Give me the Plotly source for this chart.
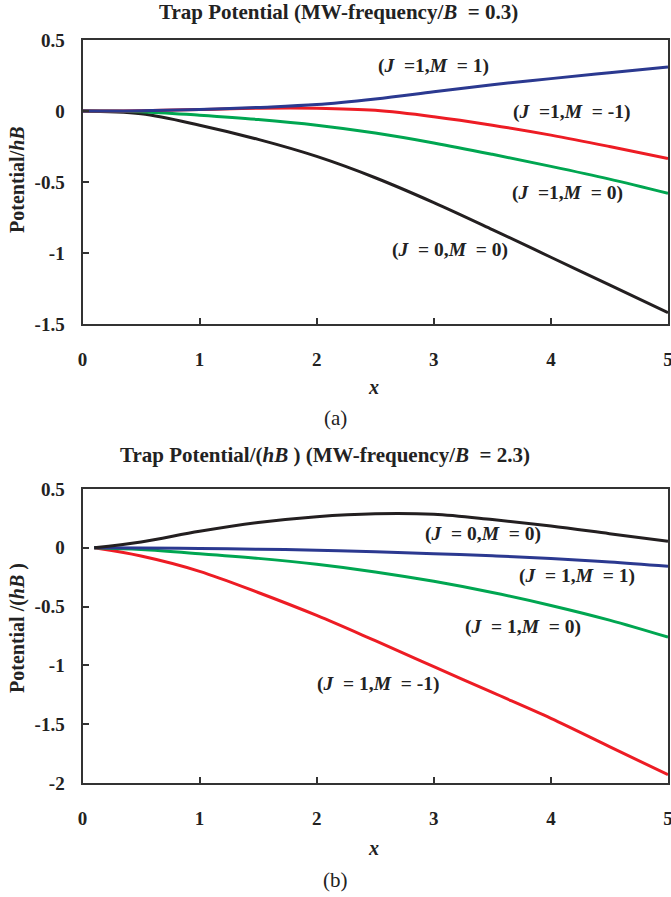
import plotly.graph_objects as go

# ---------------- data ----------------
x_a = [0, 0.5, 1, 1.5, 2, 2.5, 3, 3.5, 4, 4.5, 5]
a_J0M0 = [0, -0.02, -0.10, -0.20, -0.32, -0.47, -0.645, -0.835, -1.03, -1.225, -1.42]
a_J1M0 = [0, -0.005, -0.03, -0.06, -0.10, -0.155, -0.225, -0.305, -0.39, -0.48, -0.58]
a_J1Mm1 = [0, 0.002, 0.01, 0.02, 0.02, 0.005, -0.04, -0.10, -0.17, -0.25, -0.335]
a_J1M1 = [0, 0.002, 0.01, 0.025, 0.045, 0.085, 0.135, 0.185, 0.228, 0.27, 0.31]

x_b = [0.1, 0.5, 1, 1.5, 2, 2.5, 3, 3.5, 4, 4.5, 5]
b_J0M0 = [0, 0.05, 0.14, 0.215, 0.265, 0.29, 0.285, 0.24, 0.185, 0.12, 0.055]
b_J1M1 = [0, -0.001, -0.005, -0.012, -0.02, -0.033, -0.05, -0.068, -0.09, -0.12, -0.157]
b_J1M0 = [0, -0.015, -0.05, -0.09, -0.14, -0.205, -0.285, -0.38, -0.49, -0.615, -0.76]
b_J1Mm1 = [0, -0.07, -0.2, -0.38, -0.575, -0.79, -1.01, -1.23, -1.45, -1.69, -1.93]

x_ticks = [0, 1, 2, 3, 4, 5]
x_ticktext = ["0", "1", "2", "3", "4", "5"]
ya_ticks = [0.5, 0, -0.5, -1, -1.5]
ya_ticktext = ["0.5", "0", "-0.5", "-1", "-1.5"]
yb_ticks = [0.5, 0, -0.5, -1, -1.5, -2]
yb_ticktext = ["0.5", "0", "-0.5", "-1", "-1.5", "-2"]

BLUE = "#2b3990"
RED = "#ed1c24"
GREEN = "#00a651"
BLACK = "#231f20"
FONT = "Liberation Serif"
W, H = 671, 897

fig = go.Figure()

def line(x, y, color, xa, ya):
    fig.add_trace(go.Scatter(x=x, y=y, mode="lines", xaxis=xa, yaxis=ya,
                             line=dict(color=color, width=3, shape="spline", smoothing=1.0),
                             showlegend=False, hoverinfo="skip"))

line(x_a, a_J0M0, BLACK, "x", "y")
line(x_a, a_J1M0, GREEN, "x", "y")
line(x_a, a_J1Mm1, RED, "x", "y")
line(x_a, a_J1M1, BLUE, "x", "y")

line(x_b, b_J1Mm1, RED, "x2", "y2")
line(x_b, b_J1M0, GREEN, "x2", "y2")
line(x_b, b_J1M1, BLUE, "x2", "y2")
line(x_b, b_J0M0, BLACK, "x2", "y2")

xdom = [82.5 / W, 668 / W]
ydom_a = [1 - 324 / H, 1 - 40 / H]
ydom_b = [1 - 783 / H, 1 - 489 / H]

tickfont = dict(family=FONT, size=19, color="#222", weight="bold")
axis_common = dict(showline=True, mirror=True, linecolor="#333", linewidth=2,
                   ticks="inside", ticklen=6, tickwidth=1.5, tickcolor="#333",
                   showgrid=False, zeroline=False, tickfont=tickfont,
                   automargin=False, ticklabeloverflow="allow")

fig.update_layout(
    width=W, height=H,
    margin=dict(l=0, r=0, t=0, b=0),
    paper_bgcolor="white", plot_bgcolor="white",
    xaxis=dict(domain=xdom, range=[0, 5], anchor="y", tickvals=x_ticks,
               ticktext=x_ticktext, ticklabelstandoff=17, **axis_common),
    yaxis=dict(domain=ydom_a, range=[-1.5, 0.5], anchor="x", tickvals=ya_ticks,
               ticktext=ya_ticktext, ticklabelstandoff=12, **axis_common),
    xaxis2=dict(domain=xdom, range=[0, 5], anchor="y2", tickvals=x_ticks,
                ticktext=x_ticktext, ticklabelstandoff=17, **axis_common),
    yaxis2=dict(domain=ydom_b, range=[-2, 0.5], anchor="x2", tickvals=yb_ticks,
                ticktext=yb_ticktext, ticklabelstandoff=12, **axis_common),
)

def ann(text, x, y, xref="paper", yref="paper", size=17, angle=0, bold=True):
    fig.add_annotation(text=text, x=x, y=y, xref=xref, yref=yref, showarrow=False,
                       textangle=angle, xanchor="center", yanchor="middle",
                       font=dict(family=FONT, size=size, color="#222",
                                 weight="bold" if bold else "normal"))

def px(xp, yp):
    return xp / W, 1 - yp / H

# titles
ann("Trap Potential (MW-frequency/<i>B</i>  = 0.3)", *px(338, 12), size=21)
ann("Trap Potential/(<i>hB</i> ) (MW-frequency/<i>B</i>  = 2.3)", *px(325, 455), size=21)
# axis titles
ann("<i>x</i>", *px(373, 387), size=20)
ann("<i>x</i>", *px(373, 848), size=20)
ann("Potential/<i>hB</i>", *px(17, 180), size=20, angle=-90)
ann("Potential /(<i>hB</i> )", *px(17, 628), size=20, angle=-90)
# panel labels
ann("(a)", *px(335, 418), size=21, bold=False)
ann("(b)", *px(335, 880), size=21, bold=False)

# curve labels, top panel
ann("(<i>J</i>  =1,<i>M</i>  = 1)", 3.0, 0.32, "x", "y", size=19.5)
ann("(<i>J</i>  =1,<i>M</i>  = -1)", 4.18, -0.01, "x", "y", size=19.5)
ann("(<i>J</i>  =1,<i>M</i>  = 0)", 4.14, -0.58, "x", "y", size=19.5)
ann("(<i>J</i>  = 0,<i>M</i>  = 0)", 3.14, -0.98, "x", "y", size=19.5)
# curve labels, bottom panel
ann("(<i>J</i>  = 0,<i>M</i>  = 0)", 3.42, 0.12, "x2", "y2", size=19.5)
ann("(<i>J</i>  = 1,<i>M</i>  = 1)", 4.22, -0.24, "x2", "y2", size=19.5)
ann("(<i>J</i>  = 1,<i>M</i>  = 0)", 3.76, -0.67, "x2", "y2", size=19.5)
ann("(<i>J</i>  = 1,<i>M</i>  = -1)", 2.52, -1.16, "x2", "y2", size=19.5)

fig.write_html("out.html")
